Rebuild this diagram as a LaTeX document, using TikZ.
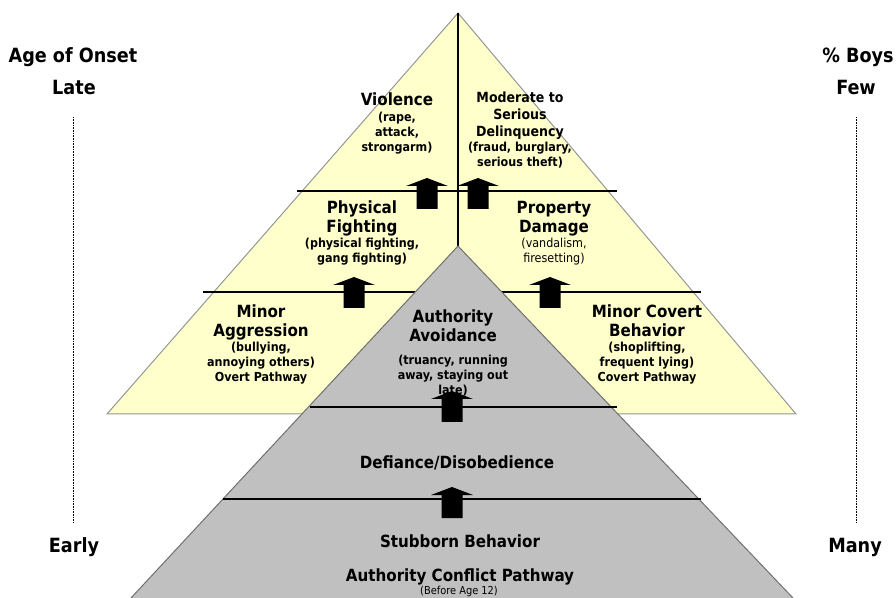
\documentclass[tikz,border=0pt]{standalone}
\usepackage{fontspec}
\setmainfont{DejaVu Sans Condensed}
\definecolor{paleyellow}{RGB}{255,255,204}
\definecolor{silver}{RGB}{192,192,192}
\definecolor{yedge}{RGB}{150,150,150}
\definecolor{gedge}{RGB}{112,112,112}
\begin{document}
\begin{tikzpicture}[x=0.75pt,y=-0.75pt,
  yellowtri/.style={fill=paleyellow,draw=yedge,line width=0.75pt},
  graytri/.style={fill=silver,draw=gedge,line width=0.75pt},
  level/.style={draw=black,line width=0.8pt},
  divider/.style={draw=black,line width=1.5pt},
  axisline/.style={draw=black,line width=0.75pt,dash pattern=on 0.6pt off 0.6pt},
  txt/.style={align=center,inner sep=0pt,anchor=base},
  side/.style={txt,font=\fontsize{14.7}{17}\selectfont\bfseries},
  head/.style={txt,font=\fontsize{12.6}{14.6}\selectfont\bfseries},
  mid/.style={txt,font=\fontsize{10.5}{12.75}\selectfont\bfseries},
  ex/.style={txt,font=\fontsize{9.3}{11.25}\selectfont\bfseries},
  exreg/.style={txt,font=\fontsize{9.3}{11.25}\selectfont},
  note/.style={txt,font=\fontsize{8.2}{9}\selectfont},
  blockup/.pic={\fill[black] (-21,8) -- (0,0) -- (21,8) -- (10.5,8) -- (10.5,31)
                 -- (-10.5,31) -- (-10.5,8) -- cycle;}]
\useasboundingbox (0,0) rectangle (896,598);
\clip (0,0) rectangle (896,598);

% upper pyramid: overt and covert pathways
\coordinate (ytop) at (458,13);
\coordinate (yleft) at (107,414);
\coordinate (yright) at (796,414);
\path[yellowtri] (ytop) -- (yleft) -- (yright) -- cycle;
\coordinate (l1a) at (297,191); \coordinate (l1b) at (617,191);
\coordinate (l2a) at (203,292); \coordinate (l2b) at (701,292);
\draw[level] (l1a) -- (l1b);
\draw[level] (l2a) -- (l2b);
\coordinate (gtop) at (458,246);
\draw[divider] (ytop) -- (gtop);

% lower pyramid: authority conflict pathway (runs past the lower edge)
\coordinate (gleft) at (121.7,608);
\coordinate (gright) at (802.5,608);
\path[graytri] (gtop) -- (gleft) -- (gright) -- cycle;
\coordinate (l3a) at (310,407); \coordinate (l3b) at (617,407);
\coordinate (l4a) at (223,499); \coordinate (l4b) at (701,499);
\draw[level] (l3a) -- (l3b);
\draw[level] (l4a) -- (l4b);

% stage labels (each node sits on the baseline of its last line)
\node[head] (violence) at (397,106) {Violence};
\node[ex] (violenceEx) at (397,152) {(rape,\\attack,\\strongarm)};
\node[mid] (delinq) at (520,137) {Moderate to\\Serious\\Delinquency};
\node[ex] (delinqEx) at (520,167) {(fraud, burglary,\\serious theft)};
\node[head] (fighting) at (362,233) {Physical\\Fighting};
\node[ex] (fightingEx) at (362,263) {(physical fighting,\\gang fighting)};
\node[head] (damage) at (554,233) {Property\\Damage};
\node[exreg] (damageEx) at (554,263) {(vandalism,\\firesetting)};
\node[head] (aggression) at (261,337) {Minor\\Aggression};
\node[ex] (aggressionEx) at (261,382) {(bullying,\\annoying others)\\Overt Pathway};
\node[head] (avoidance) at (453,342) {Authority\\Avoidance};
\node[ex] (avoidanceEx) at (453,395) {(truancy, running\\away, staying out\\late)};
\node[head] (covert) at (647,337) {Minor Covert\\Behavior};
\node[ex] (covertEx) at (647,382) {(shoplifting,\\frequent lying)\\Covert Pathway};
\node[head] (defiance) at (457,468) {Defiance/Disobedience};
\node[head] (stubborn) at (460,547) {Stubborn Behavior};
\node[head] (conflict) at (460,581) {Authority Conflict Pathway};
\node[note] (before) at (459,594) {(Before Age 12)};

% progression arrows
\pic at (427,178) {blockup};
\pic at (478,178) {blockup};
\pic at (354,277) {blockup};
\pic at (550,277) {blockup};
\pic at (452,391) {blockup};
\pic at (452,487) {blockup};

% side scales
\node[side] (onset) at (73,63) {Age of Onset};
\node[side] (late) at (74,95) {Late};
\node[side] (early) at (74,552) {Early};
\coordinate (onsetTop) at (73.5,117);
\coordinate (onsetBot) at (73.5,522);
\draw[axisline] (onsetTop) -- (onsetBot);
\node[side] (boys) at (858,63) {\% Boys};
\node[side] (few) at (856,95) {Few};
\node[side] (many) at (855,552) {Many};
\coordinate (boysTop) at (856,117);
\coordinate (boysBot) at (856,522);
\draw[axisline] (boysTop) -- (boysBot);
\end{tikzpicture}
\end{document}
